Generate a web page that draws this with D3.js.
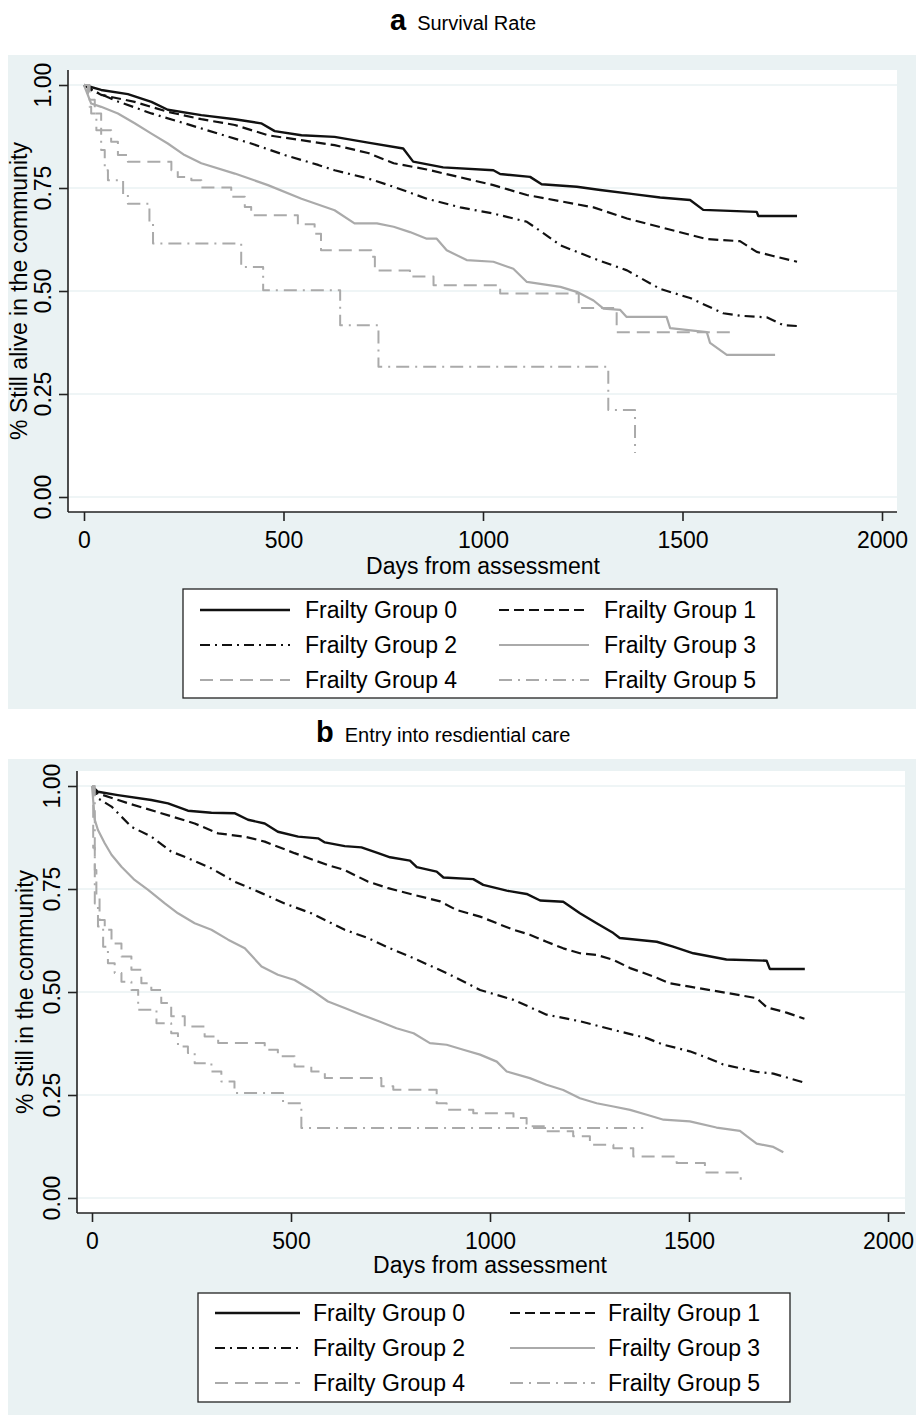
<!DOCTYPE html>
<html>
<head>
<meta charset="utf-8">
<script src="https://cdn.jsdelivr.net/npm/d3@7"></script>
<style>
  body { margin: 0; background: #fff; }
  text { font-family: "Liberation Sans", Arial, sans-serif; fill: #000; }
</style>
</head>
<body>
<svg id="chart" width="919" height="1420"></svg>
<script>
// ---- data ----
const dayTicks = [0, 500, 1000, 1500, 2000];
const rateTicks = [0, 0.25, 0.5, 0.75, 1];
const groupNames = ["Frailty Group 0", "Frailty Group 1", "Frailty Group 2",
                    "Frailty Group 3", "Frailty Group 4", "Frailty Group 5"];

// panel a: survival
const survG0 = [[0,1],[43,0.988],[110,0.978],[169,0.959],[210,0.94],[294,0.927],[378,0.917],[444,0.907],[478,0.888],[545,0.878],[628,0.874],[712,0.86],[800,0.846],[825,0.814],[900,0.80],[1026,0.793],[1043,0.784],[1118,0.777],[1147,0.759],[1235,0.753],[1294,0.745],[1377,0.735],[1444,0.727],[1519,0.721],[1552,0.697],[1686,0.692],[1690,0.682],[1787,0.682]];
const survG1 = [[0,1],[43,0.976],[127,0.959],[210,0.935],[294,0.917],[378,0.903],[461,0.878],[545,0.866],[628,0.854],[712,0.835],[776,0.81],[859,0.795],[943,0.776],[1026,0.757],[1110,0.733],[1194,0.718],[1277,0.703],[1361,0.676],[1444,0.655],[1561,0.626],[1644,0.621],[1686,0.595],[1727,0.585],[1787,0.571]];
const survG2 = [[0,1],[18,0.988],[85,0.96],[169,0.931],[252,0.907],[336,0.882],[419,0.858],[503,0.83],[587,0.806],[628,0.793],[712,0.773],[776,0.753],[859,0.724],[943,0.703],[1026,0.688],[1110,0.668],[1152,0.64],[1194,0.611],[1277,0.579],[1361,0.55],[1444,0.505],[1519,0.483],[1602,0.446],[1644,0.44],[1711,0.436],[1753,0.417],[1787,0.415]];
const survG3 = [[0,1],[18,0.955],[43,0.947],[85,0.931],[127,0.907],[169,0.882],[210,0.858],[252,0.83],[294,0.81],[378,0.785],[461,0.757],[545,0.724],[628,0.696],[678,0.664],[734,0.664],[776,0.656],[817,0.643],[859,0.627],[884,0.627],[909,0.599],[959,0.575],[1026,0.571],[1076,0.554],[1110,0.522],[1194,0.51],[1235,0.498],[1277,0.477],[1302,0.457],[1344,0.454],[1360,0.437],[1460,0.437],[1469,0.41],[1561,0.40],[1569,0.374],[1611,0.345],[1732,0.345]];
const survG4 = [[0,1],[10,0.964],[27,0.931],[43,0.89],[68,0.862],[85,0.83],[110,0.814],[219,0.793],[235,0.777],[269,0.769],[294,0.751],[369,0.729],[403,0.704],[419,0.684],[536,0.662],[578,0.639],[594,0.599],[720,0.583],[729,0.55],[817,0.535],[876,0.514],[1043,0.494],[1240,0.459],[1335,0.40],[1630,0.40]];
const survG5 = [[0,1],[14,0.947],[18,0.931],[31,0.89],[43,0.842],[52,0.793],[60,0.769],[98,0.733],[110,0.712],[164,0.664],[173,0.615],[394,0.558],[449,0.502],[642,0.417],[738,0.316],[1314,0.211],[1381,0.107]];

// panel b: entry into residential care
const careG0 = [[0,1],[15,0.986],[65,0.978],[149,0.966],[191,0.958],[241,0.94],[300,0.935],[358,0.934],[392,0.918],[434,0.909],[467,0.889],[518,0.877],[568,0.873],[585,0.863],[635,0.854],[677,0.851],[719,0.837],[749,0.827],[799,0.819],[816,0.803],[866,0.792],[883,0.778],[958,0.774],[983,0.76],[1042,0.746],[1092,0.738],[1126,0.722],[1184,0.719],[1226,0.691],[1268,0.667],[1310,0.643],[1326,0.631],[1419,0.622],[1460,0.61],[1511,0.594],[1594,0.579],[1695,0.576],[1703,0.556],[1791,0.556]];
const careG1 = [[0,1],[15,0.982],[91,0.958],[174,0.934],[258,0.909],[317,0.885],[384,0.877],[434,0.865],[509,0.837],[593,0.808],[635,0.796],[693,0.768],[744,0.752],[808,0.736],[875,0.72],[916,0.699],[975,0.683],[1017,0.667],[1059,0.651],[1100,0.639],[1142,0.622],[1184,0.606],[1226,0.594],[1268,0.59],[1310,0.578],[1352,0.558],[1410,0.538],[1452,0.521],[1502,0.513],[1594,0.498],[1670,0.485],[1695,0.463],[1745,0.45],[1790,0.435]];
const careG2 = [[0,1],[15,0.97],[49,0.95],[99,0.901],[149,0.877],[199,0.841],[241,0.825],[300,0.80],[358,0.768],[426,0.74],[484,0.715],[551,0.691],[635,0.651],[693,0.631],[744,0.608],[808,0.582],[891,0.546],[975,0.505],[1059,0.481],[1142,0.445],[1226,0.429],[1310,0.408],[1394,0.388],[1436,0.372],[1502,0.356],[1544,0.341],[1586,0.324],[1670,0.306],[1712,0.302],[1790,0.28]];
const careG3 = [[0,1],[7,0.918],[15,0.893],[32,0.861],[49,0.833],[74,0.804],[107,0.772],[141,0.748],[183,0.715],[216,0.691],[258,0.667],[300,0.651],[342,0.627],[384,0.606],[426,0.562],[467,0.542],[509,0.529],[551,0.505],[593,0.477],[635,0.461],[677,0.445],[724,0.428],[765,0.412],[808,0.40],[849,0.376],[891,0.372],[933,0.36],[975,0.348],[1017,0.331],[1042,0.307],[1100,0.291],[1142,0.275],[1184,0.262],[1226,0.242],[1268,0.23],[1310,0.222],[1352,0.214],[1394,0.202],[1436,0.19],[1502,0.186],[1569,0.171],[1628,0.163],[1645,0.15],[1670,0.132],[1712,0.124],[1737,0.111]];
const careG4 = [[0,1],[3,0.85],[7,0.796],[11,0.732],[19,0.675],[32,0.651],[49,0.618],[74,0.586],[99,0.554],[124,0.521],[149,0.505],[174,0.473],[199,0.441],[233,0.416],[283,0.392],[317,0.376],[434,0.36],[467,0.344],[509,0.319],[551,0.307],[585,0.291],[727,0.271],[757,0.263],[866,0.23],[891,0.214],[958,0.206],[1059,0.194],[1092,0.174],[1142,0.162],[1209,0.15],[1251,0.129],[1310,0.121],[1360,0.101],[1469,0.085],[1540,0.062],[1630,0.044]];
const careG5 = [[0,1],[7,0.715],[15,0.659],[28,0.61],[40,0.57],[57,0.546],[74,0.525],[99,0.505],[116,0.457],[162,0.424],[199,0.40],[216,0.368],[241,0.352],[258,0.327],[300,0.307],[325,0.283],[358,0.255],[480,0.23],[526,0.17],[1385,0.17]];

// ---- styles per group ----
const BLACK = "#111", GREY = "#aaaaaa";
const lineStyles = [
  { color: BLACK, dash: null,         width: 2.4, step: false },
  { color: BLACK, dash: "10,5",       width: 2.2, step: false },
  { color: BLACK, dash: "10,5,2,5",   width: 2.2, step: false },
  { color: GREY,  dash: null,         width: 2.2, step: false },
  { color: GREY,  dash: "13,7",       width: 2,   step: true  },
  { color: GREY,  dash: "13,6,2,6",   width: 2,   step: true  }
];

const svg = d3.select("#chart");
const BG = "#eaf2f3";

function drawPanel(p, series) {
  // graph region
  svg.append("rect")
    .attr("x", p.bg[0]).attr("y", p.bg[1])
    .attr("width", p.bg[2] - p.bg[0]).attr("height", p.bg[3] - p.bg[1])
    .attr("fill", BG);
  svg.append("rect")
    .attr("x", p.plot[0]).attr("y", p.plot[1])
    .attr("width", p.plot[2] - p.plot[0]).attr("height", p.plot[3] - p.plot[1])
    .attr("fill", "#fff");

  const x = d3.scaleLinear().domain([0, 2000]).range(p.xr);
  const y = d3.scaleLinear().domain([0, 1]).range(p.yr);

  // gridlines
  svg.append("g").selectAll("line")
    .data(rateTicks).enter().append("line")
    .attr("x1", p.plot[0]).attr("x2", p.plot[2])
    .attr("y1", d => y(d)).attr("y2", d => y(d))
    .attr("stroke", BG).attr("stroke-width", 1.6);

  // curves
  series.forEach((s, i) => {
    const st = lineStyles[i];
    const line = d3.line()
      .x(d => x(d[0])).y(d => y(d[1]))
      .curve(st.step ? d3.curveStepAfter : d3.curveLinear);
    svg.append("path")
      .attr("d", line(s))
      .attr("fill", "none")
      .attr("stroke", st.color)
      .attr("stroke-width", st.width)
      .attr("stroke-dasharray", st.dash)
      .attr("stroke-linejoin", "round");
  });

  // axes
  const xAxis = svg.append("g")
    .attr("transform", `translate(0,${p.plot[3]})`)
    .call(d3.axisBottom(x).tickValues(dayTicks).tickSize(9).tickPadding(10).tickFormat(d3.format("d")));
  xAxis.select(".domain").attr("d", `M${p.plot[0]},0H${p.plot[2]}`).attr("stroke", "#222").attr("stroke-width", 1.6);
  xAxis.selectAll(".tick line").attr("stroke", "#222").attr("stroke-width", 1.6);
  xAxis.selectAll(".tick text").attr("font-size", 23).attr("fill", "#000")
    .attr("font-family", "Liberation Sans, Arial, sans-serif").attr("dy", "0.75em");

  const yAxis = svg.append("g")
    .attr("transform", `translate(${p.plot[0]},0)`)
    .call(d3.axisLeft(y).tickValues(rateTicks).tickSize(9).tickFormat(d3.format(".2f")));
  yAxis.select(".domain").attr("d", `M0,${p.plot[1]}V${p.plot[3]}`).attr("stroke", "#222").attr("stroke-width", 1.6);
  yAxis.selectAll(".tick line").attr("stroke", "#222").attr("stroke-width", 1.6);
  yAxis.selectAll(".tick text").remove();
  svg.append("g").selectAll("text")
    .data(rateTicks).enter().append("text")
    .attr("transform", d => `translate(${p.yTickX},${y(d)}) rotate(-90)`)
    .attr("text-anchor", "middle")
    .attr("font-size", 23)
    .text(d3.format(".2f"));

  // axis titles
  svg.append("text")
    .attr("x", x(1000)).attr("y", p.xTitleY)
    .attr("text-anchor", "middle").attr("font-size", 23)
    .text("Days from assessment");
  svg.append("text")
    .attr("transform", `translate(${p.yTitleX},${(p.plot[1] + p.plot[3]) / 2}) rotate(-90)`)
    .attr("text-anchor", "middle").attr("font-size", 23)
    .text(p.yTitle);

  // panel heading
  const head = svg.append("text").attr("x", p.headX).attr("y", p.headY);
  head.append("tspan").attr("font-weight", "bold").attr("font-size", 29).text(p.letter);
  head.append("tspan").attr("dx", 11).attr("font-size", 20).text(p.heading);

  // legend
  const lg = p.legend;
  svg.append("rect")
    .attr("x", lg.box[0]).attr("y", lg.box[1])
    .attr("width", lg.box[2] - lg.box[0]).attr("height", lg.box[3] - lg.box[1])
    .attr("fill", "#fff").attr("stroke", "#222").attr("stroke-width", 1.3);
  const items = svg.append("g").selectAll("g")
    .data(groupNames).enter().append("g")
    .attr("transform", (d, i) => `translate(${lg.cols[i % 2]},${lg.rows[Math.floor(i / 2)]})`);
  items.append("line")
    .attr("x1", 0).attr("x2", lg.lineLen)
    .attr("y1", 0).attr("y2", 0)
    .attr("stroke", (d, i) => lineStyles[i].color)
    .attr("stroke-width", (d, i) => lineStyles[i].width)
    .attr("stroke-dasharray", (d, i) => lineStyles[i].dash);
  items.append("text")
    .attr("x", lg.textDx).attr("y", 8)
    .attr("font-size", 23)
    .text(d => d);
}

drawPanel({
  bg: [8, 55, 916, 709],
  plot: [68, 70, 897, 512],
  xr: [84, 882], yr: [497, 85],
  yTickX: 51, yTitleX: 27, xTitleY: 574,
  yTitle: "% Still alive in the community",
  letter: "a", heading: "Survival Rate", headX: 390, headY: 30,
  legend: { box: [183, 589, 777, 698], rows: [610, 645, 680], cols: [200, 499], lineLen: 90, textDx: 105 }
}, [survG0, survG1, survG2, survG3, survG4, survG5]);

drawPanel({
  bg: [8, 759, 916, 1415],
  plot: [77, 771, 905, 1213],
  xr: [92, 888], yr: [1198, 786],
  yTickX: 60, yTitleX: 33, xTitleY: 1273,
  yTitle: "% Still in the community",
  letter: "b", heading: "Entry into resdiential care", headX: 316, headY: 742,
  legend: { box: [198, 1293, 790, 1402], rows: [1313, 1348, 1383], cols: [215, 510], lineLen: 85, textDx: 98 }
}, [careG0, careG1, careG2, careG3, careG4, careG5]);
</script>
</body>
</html>
